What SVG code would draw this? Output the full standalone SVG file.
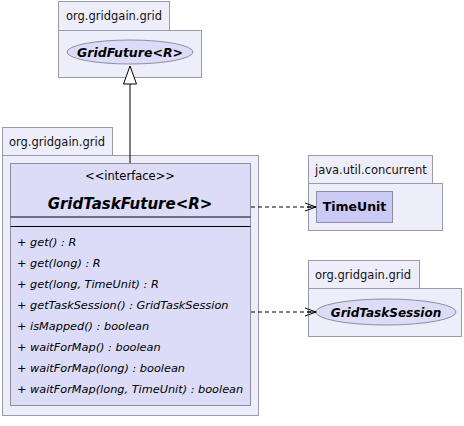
<svg xmlns="http://www.w3.org/2000/svg" width="464" height="426" viewBox="0 0 464 426">
<style>
.pkg{fill:#EEEEFA;stroke:#9A9AAA;stroke-width:1}
.cls{fill:#DCDCF8;stroke:#8E8EA0;stroke-width:1}
.cls2{fill:#CACAF4;stroke:#8E8EA0;stroke-width:1}
.ell{fill:#DCDCF8;stroke:#8E8EA0;stroke-width:1}
.pl{font-family:"DejaVu Sans",sans-serif;font-size:11.5px;fill:#111}
.nm{font-family:"DejaVu Sans",sans-serif;font-weight:bold;font-style:italic;fill:#000}
.bn{font-family:"DejaVu Sans",sans-serif;font-weight:bold;fill:#000}
.st{font-family:"DejaVu Sans",sans-serif;font-size:11.5px;fill:#000}
.m{font-family:"DejaVu Sans",sans-serif;font-size:11.3px;font-style:italic;fill:#000}
.dep{fill:none;stroke:#000;stroke-width:1;stroke-dasharray:4,3}
</style>
<defs>
<marker id="open" markerWidth="12" markerHeight="10" refX="11" refY="5" orient="auto" markerUnits="userSpaceOnUse">
<path d="M0,1 L11,5 L0,9 M2,5 L11,5" fill="none" stroke="#000" stroke-width="1"/>
</marker>
</defs>
<g id="pkg-top">
<rect class="pkg" x="58.5" y="1.5" width="111" height="29"/>
<rect class="pkg" x="58.5" y="30.5" width="143" height="47"/>
<text class="pl" x="66" y="20">org.gridgain.grid</text>
</g>
<g id="GridFuture">
<ellipse class="ell" cx="130" cy="52" rx="63" ry="12"/>
<text class="nm" x="130" y="56.5" font-size="12.5" text-anchor="middle">GridFuture&lt;R&gt;</text>
</g>
<g id="pkg-main">
<rect class="pkg" x="2.5" y="127.5" width="110" height="28"/>
<rect class="pkg" x="2.5" y="155.5" width="256" height="260"/>
<text class="pl" x="9" y="146">org.gridgain.grid</text>
</g>
<g id="GridTaskFuture">
<rect class="cls" x="10.5" y="163.5" width="240" height="242"/>
<text class="st" x="130" y="180" text-anchor="middle">&lt;&lt;interface&gt;&gt;</text>
<text class="nm" x="130" y="208.5" font-size="15" text-anchor="middle">GridTaskFuture&lt;R&gt;</text>
<line x1="10.5" y1="217" x2="250.5" y2="217" stroke="#000"/>
<line x1="10.5" y1="226.5" x2="250.5" y2="226.5" stroke="#000"/>
<text class="m" x="17" y="246">+ get() : R</text>
<text class="m" x="17" y="267">+ get(long) : R</text>
<text class="m" x="17" y="288">+ get(long, TimeUnit) : R</text>
<text class="m" x="17" y="309">+ getTaskSession() : GridTaskSession</text>
<text class="m" x="17" y="330">+ isMapped() : boolean</text>
<text class="m" x="17" y="351">+ waitForMap() : boolean</text>
<text class="m" x="17" y="372">+ waitForMap(long) : boolean</text>
<text class="m" x="17" y="393">+ waitForMap(long, TimeUnit) : boolean</text>
</g>
<g id="pkg-concurrent">
<rect class="pkg" x="308.5" y="155.5" width="124" height="28"/>
<rect class="pkg" x="308.5" y="183.5" width="134" height="47"/>
<text class="pl" x="315" y="174">java.util.concurrent</text>
</g>
<g id="TimeUnit">
<rect class="cls2" x="316.5" y="191.5" width="76" height="31"/>
<text class="bn" x="354.5" y="211" font-size="12.5" text-anchor="middle">TimeUnit</text>
</g>
<g id="pkg-session">
<rect class="pkg" x="308.5" y="260.5" width="111" height="28"/>
<rect class="pkg" x="308.5" y="288.5" width="153" height="48"/>
<text class="pl" x="315" y="279">org.gridgain.grid</text>
</g>
<g id="GridTaskSession">
<ellipse class="ell" cx="386" cy="312" rx="70" ry="13"/>
<text class="nm" x="386" y="317" font-size="12" text-anchor="middle">GridTaskSession</text>
</g>
<g id="connectors">
<line x1="130" y1="84" x2="130" y2="163" stroke="#000" stroke-width="1"/>
<polygon points="130,66 123.5,84 136.5,84" fill="#fff" stroke="#000" stroke-width="1"/>
<line class="dep" x1="251" y1="207" x2="316" y2="207" marker-end="url(#open)"/>
<line class="dep" x1="251" y1="312" x2="316" y2="312" marker-end="url(#open)"/>
</g>
</svg>
